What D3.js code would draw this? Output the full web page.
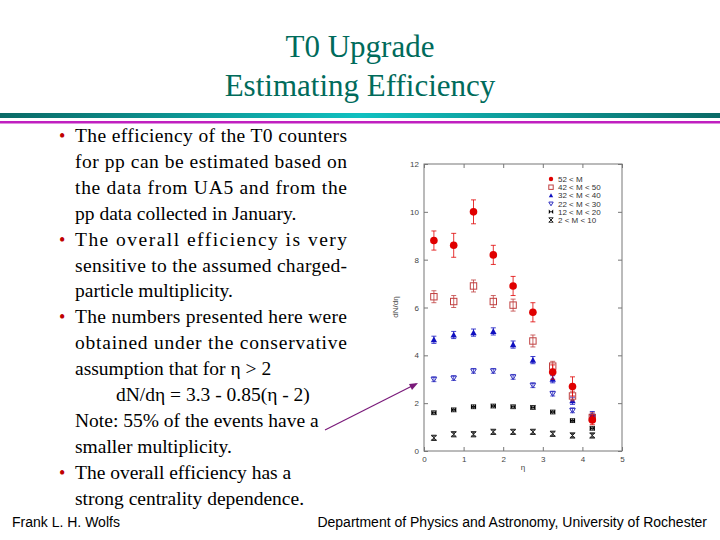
<!DOCTYPE html><html><head><meta charset="utf-8"><script src="https://cdn.jsdelivr.net/npm/d3@7"></script>
<style>body{margin:0;background:#fff}</style></head><body><svg id="s" width="720" height="540"></svg>
<script>
const xs=[0.25,0.75,1.25,1.75,2.25,2.75,3.25,3.75,4.25];
const labels=["52 < M","42 < M < 50","32 < M < 40","22 < M < 30","12 < M < 20","2 < M < 10"];
const vals=[
[8.8,8.6,10.0,8.2,6.9,5.8,3.3,2.7,1.3],
[6.45,6.25,6.9,6.25,6.1,4.6,3.55,2.3,1.4],
[4.65,4.85,4.95,5.0,4.45,3.8,3.0,2.1,1.5],
[3.0,3.05,3.35,3.35,3.1,2.75,2.4,1.7,1.45],
[1.6,1.72,1.85,1.88,1.85,1.82,1.63,1.27,0.95],
[0.55,0.7,0.7,0.8,0.8,0.8,0.72,0.65,0.65]];
const errs=[
[0.4,0.5,0.5,0.4,0.4,0.4,0.3,0.4,0.2],
[0.25,0.25,0.25,0.25,0.25,0.25,0.2,0.2,0.2],
[0.15,0.15,0.15,0.15,0.15,0.15,0.15,0.15,0.15],
[0.1,0.1,0.1,0.1,0.1,0.1,0.1,0.1,0.1],
[0.08,0.08,0.08,0.08,0.08,0.08,0.08,0.08,0.08],
[0.08,0.08,0.08,0.08,0.08,0.08,0.08,0.08,0.08]];
const xTicks=[0,1,2,3,4,5], yTicks=[0,2,4,6,8,10,12];
const svg=d3.select("#s");
const tf="Liberation Serif, Times New Roman, serif";
svg.append("text").attr("x",360).attr("y",57).attr("text-anchor","middle").attr("font-family",tf).attr("font-size",31).attr("fill","#006b5b").text("T0 Upgrade");
svg.append("text").attr("x",360).attr("y",96).attr("text-anchor","middle").attr("font-family",tf).attr("font-size",31).attr("fill","#006b5b").text("Estimating Efficiency");
const g=svg.append("defs").append("linearGradient").attr("id","gr");
g.append("stop").attr("offset","0").attr("stop-color","#0a6a66");
g.append("stop").attr("offset","0.5").attr("stop-color","#10c0c0");
g.append("stop").attr("offset","1").attr("stop-color","#0a6a66");
svg.append("rect").attr("x",0).attr("y",113).attr("width",720).attr("height",5).attr("fill","url(#gr)");
svg.append("rect").attr("x",0).attr("y",121).attr("width",720).attr("height",2.5).attr("fill","#c020c0");
const lines=[
["•","The efficiency of the T0 counters",1],
["","for pp can be estimated based on",1],
["","the data from UA5 and from the",1],
["","pp data collected in January.",0],
["•","The overall efficiency is very",1],
["","sensitive to the assumed charged-",1],
["","particle multiplicity.",0],
["•","The numbers presented here were",1],
["","obtained under the conservative",1],
["","assumption that for η > 2",0],
["i","dN/dη = 3.3 - 0.85(η - 2)",0],
["","Note: 55% of the events have a",0],
["","smaller multiplicity.",0],
["•","The overall efficiency has a",0],
["","strong centrality dependence.",0]];
lines.forEach((l,i)=>{const y=142+i*25.9;
 if(l[0]=="•")svg.append("text").attr("x",59).attr("y",y).attr("font-family",tf).attr("font-size",18).attr("fill","#c00000").text("•");
 const t=svg.append("text").attr("x",l[0]=="i"?116:75).attr("y",y).attr("font-family",tf).attr("font-size",19.5).attr("fill","#000").text(l[1]);
 if(l[2])t.attr("textLength",272).attr("lengthAdjust","spacing");});
const af="Liberation Sans, Arial, sans-serif";
svg.append("text").attr("x",12).attr("y",527).attr("font-family",af).attr("font-size",14).text("Frank L. H. Wolfs");
svg.append("text").attr("x",707).attr("y",527).attr("text-anchor","end").attr("font-family",af).attr("font-size",14).text("Department of Physics and Astronomy, University of Rochester");
const x=d3.scaleLinear().domain([0,5]).range([424,622]);
const y=d3.scaleLinear().domain([0,12]).range([451,164]);
const c="#777";
svg.append("rect").attr("x",424).attr("y",164).attr("width",198).attr("height",287).attr("fill","none").attr("stroke",c);
svg.append("g").attr("transform","translate(0,451)").call(d3.axisBottom(x).tickValues(xTicks).tickSize(-4).tickPadding(5).tickFormat(d3.format("d")));
svg.append("g").attr("transform","translate(424,0)").call(d3.axisLeft(y).tickValues(yTicks).tickSize(-4).tickPadding(5).tickFormat(d3.format("d")));
svg.append("g").attr("transform","translate(0,164)").call(d3.axisTop(x).tickValues(xTicks).tickSize(-4).tickFormat(""));
svg.append("g").attr("transform","translate(622,0)").call(d3.axisRight(y).tickValues(yTicks).tickSize(-4).tickFormat(""));
svg.selectAll(".domain").remove();svg.selectAll(".tick line").attr("stroke",c);
svg.selectAll(".tick text").attr("font-size",8).attr("fill","#444").attr("font-family",af);
svg.append("text").attr("x",523).attr("y",470).attr("text-anchor","middle").attr("font-size",8).attr("fill","#444").attr("font-family",af).text("η");
svg.append("text").attr("transform","translate(398,307) rotate(-90)").attr("text-anchor","middle").attr("font-size",8).attr("fill","#444").attr("font-family",af).text("dN/dη");
const cols=["#e00000","#c04040","#1010c0","#3030c0","#000","#222"];
function mark(sel,k,cx,cy,s){
 if(k==0)sel.append("circle").attr("cx",cx).attr("cy",cy).attr("r",s).attr("fill",cols[0]);
 else if(k==1)sel.append("rect").attr("x",cx-s).attr("y",cy-s).attr("width",2*s).attr("height",2*s).attr("fill","none").attr("stroke",cols[1]);
 else if(k==2)sel.append("path").attr("d",`M${cx},${cy-s}L${cx+s},${cy+s*0.8}L${cx-s},${cy+s*0.8}Z`).attr("fill",cols[2]);
 else if(k==3)sel.append("path").attr("d",`M${cx},${cy+s}L${cx+s},${cy-s*0.7}L${cx-s},${cy-s*0.7}Z`).attr("fill","none").attr("stroke",cols[3]);
 else if(k==4)sel.append("path").attr("d",`M${cx-s},${cy-s}L${cx-s},${cy+s}L${cx},${cy}Z M${cx+s},${cy-s}L${cx+s},${cy+s}L${cx},${cy}Z`).attr("fill","#000");
 else sel.append("path").attr("d",`M${cx-s},${cy-s}L${cx+s},${cy-s}L${cx},${cy}Z M${cx-s},${cy+s}L${cx+s},${cy+s}L${cx},${cy}Z`).attr("fill","none").attr("stroke","#222");
}
const sizes=[3.8,3.2,3.2,2.8,2.6,2.6];
for(let k=5;k>=0;k--){const gg=svg.append("g");
 xs.forEach((xv,i)=>{const cx=x(xv),v=vals[k][i],e=errs[k][i];
  gg.append("path").attr("d",`M${cx},${y(v-e)}V${y(v+e)}M${cx-2.5},${y(v-e)}h5M${cx-2.5},${y(v+e)}h5`).attr("stroke",cols[k]).attr("stroke-width",0.8);
  mark(gg,k,cx,y(v),sizes[k]);});
 mark(svg,k,551,179+k*8.2,2.2);
 svg.append("text").attr("x",558).attr("y",182+k*8.2).attr("font-size",8).attr("fill","#333").attr("font-family",af).text(labels[k]);
}
svg.append("line").attr("x1",325).attr("y1",430).attr("x2",416).attr("y2",384).attr("stroke","#7a1a7a").attr("stroke-width",1.2);
svg.append("path").attr("d","M418,383 L409,384 L412,390 Z").attr("fill","#7a1a7a");
</script></body></html>
